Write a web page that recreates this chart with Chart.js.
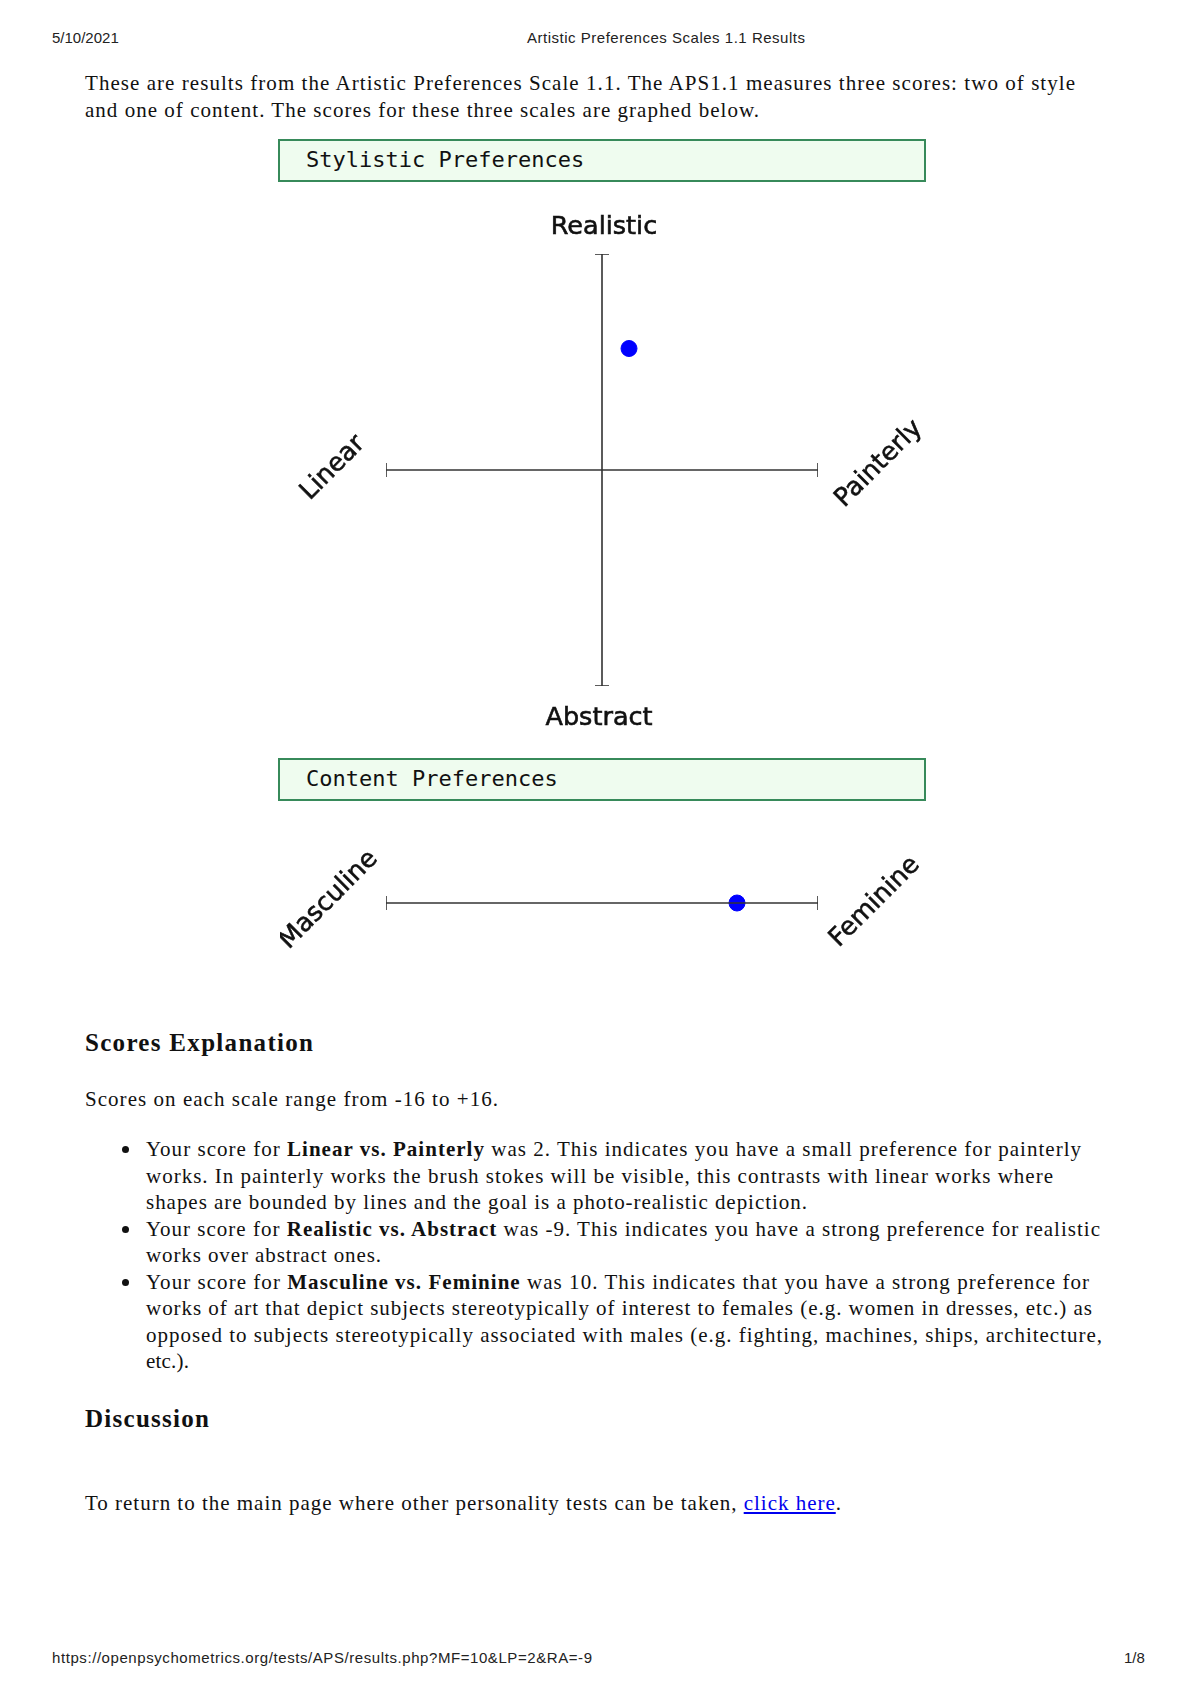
<!DOCTYPE html>
<html>
<head>
<meta charset="utf-8">
<script src="https://cdn.jsdelivr.net/npm/chart.js@4/dist/chart.umd.min.js"></script>
<style>
  body { margin: 0; width: 1200px; height: 1698px; background: #fff; position: relative; overflow: hidden; }
  .abs { position: absolute; white-space: nowrap; }
  .hdr { font-family: "Liberation Sans", Arial, sans-serif; font-size: 15px; color: #222; line-height: 20px; }
  .txt { font-family: "Liberation Serif", "Times New Roman", serif; font-size: 21px; color: #111; line-height: 26px; }
  .h2 { font-family: "Liberation Serif", "Times New Roman", serif; font-size: 25px; font-weight: bold; color: #111; line-height: 30px; }
  .box { position: absolute; left: 278px; width: 644px; height: 39px; border: 2px solid #378a5a; background: #effcef; }
  .box span { position: absolute; left: 26px; top: 6px; font-family: "DejaVu Sans Mono", monospace; font-size: 22px; color: #111; }
  .dot { position: absolute; width: 7px; height: 7px; border-radius: 50%; background: #111; }
  a { color: #0000ee; }
  canvas { position: absolute; }
</style>
</head>
<body>
<div class="abs hdr" style="left:52px; top:28px;">5/10/2021</div>
<div class="abs hdr" style="left:527px; top:28px;"><span class="fit" data-w="278">Artistic Preferences Scales 1.1 Results</span></div>

<div class="abs txt" style="left:85px; top:70px;"><span class="fit" data-w="990">These are results from the Artistic Preferences Scale 1.1. The APS1.1 measures three scores: two of style</span></div>
<div class="abs txt" style="left:85px; top:97px;"><span class="fit" data-w="674">and one of content. The scores for these three scales are graphed below.</span></div>

<div class="box" style="top:139px;"><span>Stylistic Preferences</span></div>
<div style="position:absolute; left:280px; top:200px; width:644px; height:540px;"><canvas id="styleChart"></canvas></div>

<div class="box" style="top:758px;"><span>Content Preferences</span></div>
<div style="position:absolute; left:280px; top:820px; width:644px; height:166px;"><canvas id="contentChart"></canvas></div>

<div class="abs h2" style="left:85px; top:1028px;"><span class="fit" data-w="228">Scores Explanation</span></div>
<div class="abs txt" style="left:85px; top:1086px;"><span class="fit" data-w="413">Scores on each scale range from -16 to +16.</span></div>

<div class="dot" style="left:122px; top:1146px;"></div>
<div class="abs txt" style="left:146px; top:1136px;"><span class="fit" data-w="935">Your score for <b>Linear vs. Painterly</b> was 2. This indicates you have a small preference for painterly</span></div>
<div class="abs txt" style="left:146px; top:1163px;"><span class="fit" data-w="907">works. In painterly works the brush stokes will be visible, this contrasts with linear works where</span></div>
<div class="abs txt" style="left:146px; top:1189px;"><span class="fit" data-w="661">shapes are bounded by lines and the goal is a photo-realistic depiction.</span></div>
<div class="dot" style="left:122px; top:1226px;"></div>
<div class="abs txt" style="left:146px; top:1216px;"><span class="fit" data-w="954">Your score for <b>Realistic vs. Abstract</b> was -9. This indicates you have a strong preference for realistic</span></div>
<div class="abs txt" style="left:146px; top:1242px;"><span class="fit" data-w="235">works over abstract ones.</span></div>
<div class="dot" style="left:122px; top:1279px;"></div>
<div class="abs txt" style="left:146px; top:1269px;"><span class="fit" data-w="943">Your score for <b>Masculine vs. Feminine</b> was 10. This indicates that you have a strong preference for</span></div>
<div class="abs txt" style="left:146px; top:1295px;"><span class="fit" data-w="946">works of art that depict subjects stereotypically of interest to females (e.g. women in dresses, etc.) as</span></div>
<div class="abs txt" style="left:146px; top:1322px;"><span class="fit" data-w="956">opposed to subjects stereotypically associated with males (e.g. fighting, machines, ships, architecture,</span></div>
<div class="abs txt" style="left:146px; top:1348px;"><span class="fit" data-w="43">etc.).</span></div>

<div class="abs h2" style="left:85px; top:1404px;"><span class="fit" data-w="124">Discussion</span></div>
<div class="abs txt" style="left:85px; top:1490px;"><span class="fit" data-w="756">To return to the main page where other personality tests can be taken, <a href="#">click here</a>.</span></div>

<div class="abs hdr" style="left:52px; top:1648px;"><span class="fit" data-w="540">https://openpsychometrics.org/tests/APS/results.php?MF=10&amp;LP=2&amp;RA=-9</span></div>
<div class="abs hdr" style="left:1124px; top:1648px;">1/8</div>

<script>
// scale range shared by all three scales
const SCALE_MIN = -16;
const SCALE_MAX = 16;

// scores
const linearPainterly = 2;
const realisticAbstract = -9;
const masculineFeminine = 10;

// pole labels
const styleXLabels = ['Linear', 'Painterly'];
const styleYLabels = ['Realistic', 'Abstract'];
const contentLabels = ['Masculine', 'Feminine'];

const AXIS_COLOR = '#333333';
const DOT_COLOR = '#0000ff';
const LABEL_FONT = '25.5px "DejaVu Sans", Verdana, sans-serif';

// stretch each text line to the width it has in the reference
document.querySelectorAll('.fit').forEach(el => {
  const target = Number(el.dataset.w);
  const w = el.getBoundingClientRect().width;
  const n = el.textContent.length - 1;
  if (n > 0) el.style.letterSpacing = ((target - w) / n) + 'px';
});

/** axis line with end caps */
function axisDataset(points, capRotation) {
  return {
    type: 'line',
    data: points,
    borderColor: AXIS_COLOR,
    borderWidth: 1.6,
    pointStyle: 'line',
    pointRadius: 7,
    pointRotation: capRotation,
    pointBorderColor: AXIS_COLOR,
    pointBorderWidth: 1.6,
    showLine: true,
    fill: false,
  };
}

/** labels placed at the axis ends, offsets from the scale pixels */
function poleLabelPlugin(items) {
  return {
    id: 'poleLabels',
    afterDraw(chart) {
      const { ctx, scales } = chart;
      ctx.save();
      ctx.font = LABEL_FONT;
      ctx.fillStyle = '#111';
      ctx.strokeStyle = '#111';
      ctx.lineWidth = 0.6;
      ctx.textAlign = 'center';
      ctx.textBaseline = 'middle';
      items.forEach(it => {
        const px = scales.x.getPixelForValue(it.x) + it.dx;
        const py = scales.y.getPixelForValue(it.y) + it.dy;
        ctx.save();
        ctx.translate(px, py);
        ctx.rotate(it.rot * Math.PI / 180);
        ctx.fillText(it.text, 0, 0);
        ctx.strokeText(it.text, 0, 0);
        ctx.restore();
      });
      ctx.restore();
    }
  };
}

const hiddenScale = (min, max, reverse = false) => ({
  type: 'linear', min, max, reverse, display: false,
});

const baseOptions = (padding, yScale) => ({
  responsive: true,
  maintainAspectRatio: false,
  animation: false,
  layout: { padding },
  plugins: { legend: { display: false }, tooltip: { enabled: false } },
  scales: { x: hiddenScale(SCALE_MIN, SCALE_MAX), y: yScale },
});

// Stylistic preferences: two crossing scales
new Chart(document.getElementById('styleChart'), {
  type: 'scatter',
  data: {
    datasets: [
      axisDataset([{ x: SCALE_MIN, y: 0 }, { x: SCALE_MAX, y: 0 }], 90),
      axisDataset([{ x: 0, y: SCALE_MIN }, { x: 0, y: SCALE_MAX }], 0),
      {
        data: [{ x: linearPainterly, y: realisticAbstract }],
        backgroundColor: DOT_COLOR,
        borderColor: DOT_COLOR,
        pointRadius: 8,
      }
    ]
  },
  options: baseOptions({ left: 106, right: 106, top: 54, bottom: 54 },
    hiddenScale(SCALE_MIN, SCALE_MAX, true)),
  plugins: [poleLabelPlugin([
    { text: styleYLabels[0], x: 0, y: SCALE_MIN, dx: 2, dy: -27, rot: 0 },
    { text: styleYLabels[1], x: 0, y: SCALE_MAX, dx: -3, dy: 32, rot: 0 },
    { text: styleXLabels[0], x: SCALE_MIN, y: 0, dx: -53, dy: -2, rot: -45 },
    { text: styleXLabels[1], x: SCALE_MAX, y: 0, dx: 61, dy: -6, rot: -45 },
  ])]
});

// Content preferences: one scale
new Chart(document.getElementById('contentChart'), {
  type: 'scatter',
  data: {
    datasets: [
      axisDataset([{ x: SCALE_MIN, y: 0 }, { x: SCALE_MAX, y: 0 }], 90),
      {
        data: [{ x: masculineFeminine, y: 0 }],
        backgroundColor: DOT_COLOR,
        borderColor: DOT_COLOR,
        pointRadius: 8,
      }
    ]
  },
  options: baseOptions({ left: 106, right: 106, top: 60, bottom: 60 }, hiddenScale(-1, 1)),
  plugins: [poleLabelPlugin([
    { text: contentLabels[0], x: SCALE_MIN, y: 0, dx: -57, dy: -3, rot: -45 },
    { text: contentLabels[1], x: SCALE_MAX, y: 0, dx: 57, dy: -1, rot: -45 },
  ])]
});
</script>
</body>
</html>
